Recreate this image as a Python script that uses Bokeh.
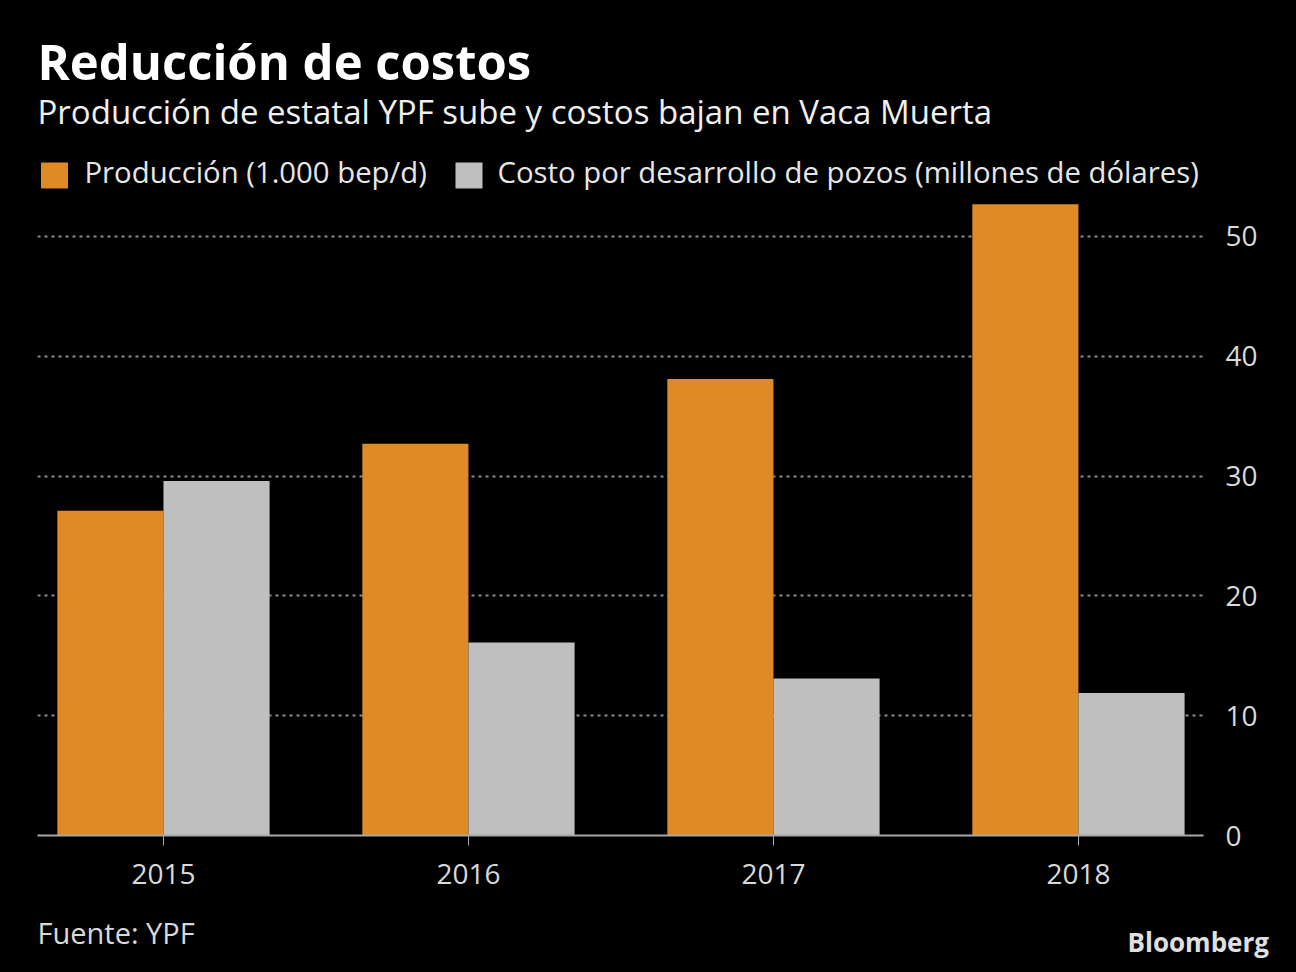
from bokeh.plotting import figure
from bokeh.models import Range1d, FixedTicker, LinearAxis, ColumnDataSource
from bokeh.layouts import column
from bokeh.core.properties import value
from bokeh.embed import file_html
from bokeh.resources import INLINE
import numpy as np

years = ["2015", "2016", "2017", "2018"]
produccion = [27.1, 32.7, 38.1, 52.7]
costo = [29.6, 16.1, 13.1, 11.9]
series_names = ["Producción (1.000 bep/d)", "Costo por desarrollo de pozos (millones de dólares)"]
y_ticks = [0, 10, 20, 30, 40, 50]
title = "Reducción de costos"
subtitle = "Producción de estatal YPF sube y costos bajan en Vaca Muerta"
source_txt = "Fuente: YPF"
brand = "Bloomberg"

ORANGE = "#DD8A27"
GREY = "#BFBFBF"
FONT = "Open Sans"
BG = {"background-color": "black"}
LEFT, FRAME_W, RIGHT = 37, 1166, 93
MID = 0.388  # em offset from alphabetic baseline to middle


def blank(h):
    f = figure(frame_width=FRAME_W, frame_height=h, output_backend="svg", toolbar_location=None,
               x_range=Range1d(LEFT, LEFT + FRAME_W), y_range=Range1d(h, 0),
               min_border_left=LEFT, min_border_right=RIGHT, min_border_top=0, min_border_bottom=0,
               background_fill_color="black", border_fill_color="black", styles=BG)
    f.outline_line_color = None
    f.axis.visible = False
    f.grid.visible = False
    return f


def txt(fig, x, base, s, size, color, bold=False, align="left"):
    fig.text(x=[x], y=[base - MID * size], text=[s], text_font=value(FONT),
             text_font_size=f"{size}px", text_font_style="bold" if bold else "normal",
             text_color=color, text_baseline="middle", text_align=align)


# ---- header ----
top = blank(198)
txt(top, 37, 80, title, 49, "white", bold=True)
txt(top, 37, 124, subtitle, 33, "#f0f0f0")
# legend
top.rect(x=[54], y=[175], width=27, height=26, color=ORANGE, line_color=None)
txt(top, 84, 183, series_names[0], 29.3, "#e6e6e6")
top.rect(x=[468.5], y=[175], width=27, height=26, color=GREY, line_color=None)
txt(top, 497, 183, series_names[1], 29.3, "#e6e6e6")

# ---- main chart ----
pos = np.arange(len(years))
bw = 0.348
src = ColumnDataSource(dict(xo=pos - bw / 2, xg=pos + bw / 2, prod=produccion, cost=costo))

p = figure(frame_width=FRAME_W, frame_height=637, output_backend="svg", toolbar_location=None,
           x_range=Range1d(-0.413, 3.410), y_range=Range1d(0, 53.17),
           min_border_left=LEFT, min_border_right=RIGHT, min_border_top=0, min_border_bottom=70,
           background_fill_color="black", border_fill_color="black", styles=BG)
p.outline_line_color = None
p.yaxis.visible = False

p.vbar(x="xo", top="prod", width=bw, source=src, color=ORANGE, line_color=None)
p.vbar(x="xg", top="cost", width=bw, source=src, color=GREY, line_color=None)

ya = LinearAxis(ticker=FixedTicker(ticks=y_ticks))
ya.axis_line_color = None
ya.major_tick_line_color = None
ya.minor_tick_line_color = None
ya.major_label_text_color = "#d9d9d9"
ya.major_label_text_font = FONT
ya.major_label_text_font_size = "28px"
ya.major_label_standoff = 16
p.add_layout(ya, "right")

xa = p.xaxis[0]
xa.ticker = FixedTicker(ticks=list(pos))
xa.major_label_overrides = {int(i): y for i, y in zip(pos, years)}
xa.axis_line_color = "#a8a8a8"
xa.axis_line_width = 2
xa.major_tick_line_color = "#a8a8a8"
xa.major_tick_line_width = 1
xa.major_tick_out = 10
xa.major_tick_in = 0
xa.minor_tick_line_color = None
xa.major_label_text_color = "#d9d9d9"
xa.major_label_text_font = FONT
xa.major_label_text_font_size = "28px"
xa.major_label_standoff = 18

p.xgrid.visible = False
p.ygrid.ticker = FixedTicker(ticks=[t for t in y_ticks if t > 0])
p.ygrid.grid_line_color = "#8c8c8c"
p.ygrid.grid_line_width = 2
p.ygrid.grid_line_dash = "3 4"

# ---- footer ----
bot = blank(67)
txt(bot, 37, 943 - 905, source_txt, 29, "#d9d9d9")
ba = LinearAxis(ticker=FixedTicker(ticks=[36]))
ba.major_label_overrides = {36: brand}
ba.axis_line_color = None
ba.major_tick_line_color = None
ba.minor_tick_line_color = None
ba.major_label_text_color = "#e0e0e0"
ba.major_label_text_font = FONT
ba.major_label_text_font_style = "bold"
ba.major_label_text_font_size = "26px"
ba.major_label_standoff = -82
bot.add_layout(ba, "right")

layout = column(top, p, bot, spacing=0, styles=BG)
open("out.html", "w").write(file_html(layout, INLINE))
